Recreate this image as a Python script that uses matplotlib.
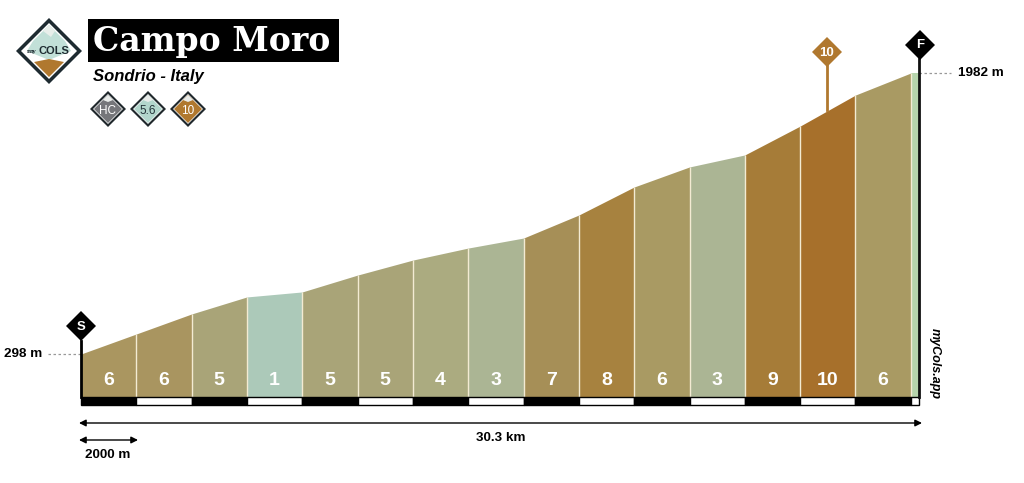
import matplotlib
matplotlib.use("Agg")
import matplotlib.pyplot as plt
from matplotlib.patches import Polygon, Rectangle

TITLE = "Campo Moro"
SUBTITLE = "Sondrio - Italy"
distance_km = [0, 2, 4, 6, 8, 10, 12, 14, 16, 18, 20, 22, 24, 26, 28, 30, 30.3]
elevation_m = [298, 418, 538, 640, 670, 771, 861, 933, 993, 1131, 1299, 1419, 1491, 1664, 1850, 1982, 1982]
gradient_labels = ["6", "6", "5", "1", "5", "5", "4", "3", "7", "8", "6", "3", "9", "10", "6", ""]
segment_colors = ["#AA9660", "#A99560", "#A9A478", "#ACC9B9", "#A9A478", "#A9A478", "#ABAB80", "#ABB594",
                  "#A68F57", "#A7823F", "#A99A63", "#ABB594", "#A67C38", "#A7702B", "#A99A63", "#B6D4AC"]
BASE_M = 40
SCALE_BOTTOM_M = -8
total_label = "30.3 km"
scale_label = "2000 m"
start_label = "298 m"
end_label = "1982 m"
max_gradient_label = "10"
badges = [("HC", "#75767A", "#FFFFFF"), ("5.6", "#B2D6CC", "#24343A"), ("10", "#B0782F", "#FFFFFF")]

SANS = "Liberation Sans"
SERIF = "DejaVu Serif"

fig = plt.figure(figsize=(10.24, 4.83), dpi=100, facecolor="white")

PX_PER_KM = 27.66
PX_PER_M = 0.16686
X0, Y298 = 81, 354
ax = fig.add_axes([0, 0, 1, 1])
ax.set_xlim(-X0 / PX_PER_KM, (1024 - X0) / PX_PER_KM)
ax.set_ylim(298 - (483 - Y298) / PX_PER_M, 298 + Y298 / PX_PER_M)
ax.axis("off")

ov = fig.add_axes([0, 0, 1, 1], facecolor="none")
ov.set_xlim(0, 1024)
ov.set_ylim(483, 0)
ov.axis("off")

for i in range(len(segment_colors)):
    ax.fill_between(distance_km[i:i + 2], [BASE_M, BASE_M], elevation_m[i:i + 2],
                    color=segment_colors[i], lw=0, zorder=2)
    if i > 0:
        ax.plot([distance_km[i]] * 2, [BASE_M, elevation_m[i]], color="#F3EBD3", lw=1.0, zorder=3,
                solid_capstyle="butt")
    if gradient_labels[i]:
        xm = (distance_km[i] + distance_km[i + 1]) / 2
        ax.text(xm, BASE_M + 100, gradient_labels[i], color="white", ha="center", va="center",
                fontsize=14, fontweight="bold", family=SANS, zorder=4)

for i in range(len(distance_km) - 1):
    ax.bar(distance_km[i], SCALE_BOTTOM_M - BASE_M, width=distance_km[i + 1] - distance_km[i], bottom=BASE_M,
           align="edge", color="black" if i % 2 == 0 else "white", edgecolor="black", lw=1.0, zorder=5)

ax.plot([0, 0], [BASE_M, elevation_m[0] + 80], color="black", lw=2, zorder=6)
ax.plot([30.3, 30.3], [BASE_M, elevation_m[-1] + 85], color="#111", lw=2, zorder=6)
ax.plot([-1.2, 0], [298, 298], color="#999", lw=0.9, ls=(0, (2, 2)), zorder=1)
ax.plot([30.3, 31.46], [1982, 1982], color="#999", lw=0.9, ls=(0, (2, 2)), zorder=1)
ax.text(-1.41, 298, start_label, ha="right", va="center", fontsize=9.7, fontweight="bold", family=SANS)
ax.text(31.7, 1982, end_label, ha="left", va="center", fontsize=9.7, fontweight="bold", family=SANS)


def diamond(cx, cy, r, fc, z=7):
    ov.add_patch(Polygon([(cx - r, cy), (cx, cy - r), (cx + r, cy), (cx, cy + r)], closed=True,
                         fc=fc, ec="none", zorder=z))


diamond(81, 326, 15, "black")
ov.text(81, 326.5, "S", color="white", ha="center", va="center", fontsize=9.5, fontweight="bold", family=SANS, zorder=8)
diamond(920, 45, 15, "black")
ov.text(920, 45.5, "F", color="white", ha="center", va="center", fontsize=9.5, fontweight="bold", family=SANS, zorder=8)

ov.plot([827, 827], [52, 110], color="#B0782F", lw=2, zorder=1)
diamond(827, 52, 15, "#B0782F")
ov.text(827, 52.5, max_gradient_label, color="white", ha="center", va="center", fontsize=9.5, fontweight="bold",
        family=SANS, zorder=8)

ov.annotate("", xy=(79, 423), xytext=(922, 423),
            arrowprops=dict(arrowstyle="<|-|>", color="black", lw=1, shrinkA=0, shrinkB=0, mutation_scale=10))
ov.annotate("", xy=(79, 440), xytext=(138, 440),
            arrowprops=dict(arrowstyle="<|-|>", color="black", lw=1, shrinkA=0, shrinkB=0, mutation_scale=10))
ov.text(501, 438, total_label, ha="center", va="center", fontsize=9.7, fontweight="bold", family=SANS)
ov.text(108, 455, scale_label, ha="center", va="center", fontsize=9.7, fontweight="bold", family=SANS)
ov.text(935, 364, "myCols.app", rotation=-90, ha="center", va="center", fontsize=9, fontweight="bold",
        style="italic", family=SANS)

ov.add_patch(Rectangle((88, 19), 251, 43, fc="black", ec="none", zorder=2))
ov.text(93, 42, TITLE, color="white", ha="left", va="center", fontsize=23.8, fontweight="bold",
        family=SERIF, zorder=3)
ov.text(93, 77, SUBTITLE, color="black", ha="left", va="center", fontsize=12, fontweight="bold", style="italic",
        family=SANS)

# logo
diamond(49, 51, 33, "#1E2B31")
diamond(49, 51, 28, "white", z=8)
ov.add_patch(Polygon([(33, 41), (49, 25), (65, 41), (71, 51), (49, 60), (27, 51)], closed=True, fc="#C2E0D8", ec="none", zorder=9))
ov.add_patch(Polygon([(43, 31), (49, 25), (55, 31), (51, 37), (47, 34)], closed=True, fc="#E8EEEA", ec="none", zorder=10))
ov.add_patch(Polygon([(34, 62), (49, 59), (64, 62), (49, 77)], closed=True, fc="#B0782F", ec="none", zorder=9))
ov.text(31.5, 52, "my", color="#1E2B31", ha="center", va="center", fontsize=4.2, fontweight="bold", family=SERIF, zorder=11)
ov.text(53.5, 51.5, "COLS", color="#1E2B31", ha="center", va="center", fontsize=8, fontweight="bold", family=SANS, zorder=11)

for k, (txt, col, tc) in enumerate(badges):
    cx = 108 + 40 * k
    diamond(cx, 109, 18, "#20282C")
    diamond(cx, 109, 15, "white", z=8)
    diamond(cx, 109, 14, col, z=8)
    ov.add_patch(Polygon([(cx - 5, 100), (cx, 95), (cx + 5, 100), (cx, 102)], closed=True, fc="#E9ECEA", ec="none", zorder=9))
    ov.text(cx, 110.5, txt, color=tc, ha="center", va="center", fontsize=8.5, family=SANS, zorder=10)

fig.savefig("out.png", dpi=100)
